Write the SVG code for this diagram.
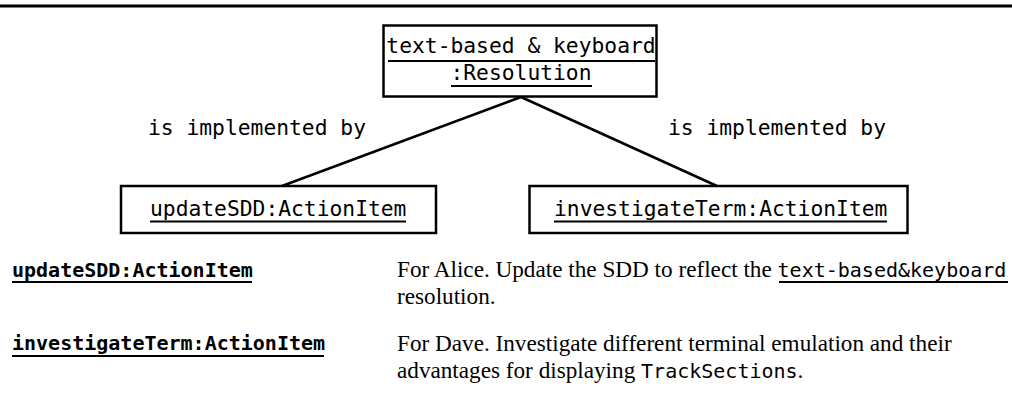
<svg xmlns="http://www.w3.org/2000/svg" width="1012" height="419" viewBox="0 0 1012 419">
<style>
.box{fill:#fff;stroke:#000;stroke-width:2.5}
.mono{font-family:"DejaVu Sans Mono","Liberation Mono",monospace;font-size:21.3px;fill:#000}
.bold{font-family:"DejaVu Sans Mono","Liberation Mono",monospace;font-size:20px;font-weight:bold;fill:#000}
.serif{font-family:"Liberation Serif","Times New Roman",serif;font-size:23.2px;fill:#000}
.smono{font-family:"DejaVu Sans Mono","Liberation Mono",monospace;font-size:20px}
.ul{stroke:#000;stroke-width:2}
.conn{stroke:#000;stroke-width:2.5;fill:none}
</style>
<rect x="0" y="4.5" width="1012" height="3" fill="#000"/>
<g id="connectors">
<line class="conn" x1="521" y1="97" x2="282" y2="186"/>
<line class="conn" x1="521" y1="97" x2="717" y2="186"/>
<text class="mono" x="148" y="135">is implemented by</text>
<text class="mono" x="668" y="135">is implemented by</text>
</g>
<g id="resolution">
<rect class="box" x="383.5" y="25.5" width="273" height="71"/>
<text class="mono" x="521" y="53" text-anchor="middle">text-based &amp; keyboard</text>
<line class="ul" x1="388" y1="61" x2="655" y2="61"/>
<text class="mono" x="521" y="80" text-anchor="middle">:Resolution</text>
<line class="ul" x1="451" y1="86" x2="592" y2="86"/>
</g>
<g id="updateSDD">
<rect class="box" x="121" y="186" width="315" height="47"/>
<text class="mono" x="150" y="216">updateSDD:ActionItem</text>
<line class="ul" x1="150" y1="221.5" x2="406" y2="221.5"/>
</g>
<g id="investigateTerm">
<rect class="box" x="529.5" y="186" width="378" height="47"/>
<text class="mono" x="554" y="216">investigateTerm:ActionItem</text>
<line class="ul" x1="554" y1="221.5" x2="887" y2="221.5"/>
</g>
<g id="descriptions">
<text class="bold" x="12" y="277">updateSDD:ActionItem</text>
<line class="ul" x1="12" y1="282" x2="252" y2="282"/>
<text class="serif" x="397" y="277">For Alice. Update the SDD to reflect the <tspan class="smono">text-based&amp;keyboard</tspan></text>
<line class="ul" x1="779" y1="282" x2="1008" y2="282"/>
<text class="serif" x="397" y="304">resolution.</text>
<text class="bold" x="12" y="350">investigateTerm:ActionItem</text>
<line class="ul" x1="12" y1="356" x2="324" y2="356"/>
<text class="serif" x="397" y="351">For Dave. Investigate different terminal emulation and their</text>
<text class="serif" x="397" y="378">advantages for displaying <tspan class="smono">TrackSections</tspan>.</text>
</g>
</svg>
